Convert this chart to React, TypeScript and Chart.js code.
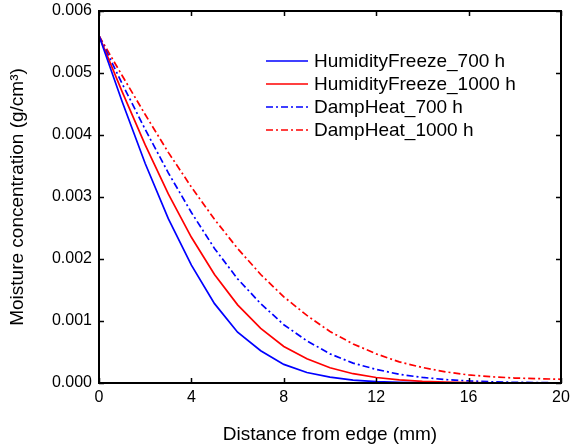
import React, { useEffect, useRef } from 'react';
import { Chart, registerables } from 'chart.js';

Chart.register(...registerables);

const FONT = '"Liberation Sans", Arial, Helvetica, sans-serif';

// Distance from edge (mm)
const distance = [0, 1, 2, 3, 4, 5, 6, 7, 8, 9, 10, 11, 12, 13, 14, 15, 16, 17, 18, 19, 20];

// Moisture concentration (g/cm3)
const humidityFreeze700 = [
  0.0056, 0.00454, 0.00354, 0.00265, 0.0019, 0.00128, 0.00082, 0.00052, 0.0003, 0.00017,
  0.000094, 0.000047, 0.000022, 0.00001, 0.000004, 0.000002, 0, 0, 0, 0, 0,
];
const humidityFreeze1000 = [
  0.0056, 0.0047, 0.00384, 0.00305, 0.00235, 0.00175, 0.00126, 0.00088, 0.00059, 0.00039,
  0.000245, 0.00015, 0.000089, 0.00005, 0.000026, 0.000013, 0.000006, 0.000003, 0.000001, 0, 0,
];
const dampHeat700 = [
  0.0056, 0.00483, 0.00409, 0.00339, 0.00275, 0.00217, 0.00168, 0.00128, 0.00094, 0.00068,
  0.00047, 0.00032, 0.00022, 0.00014, 0.00009, 0.000055, 0.000033, 0.00002, 0.000011, 0.000006, 0.000003,
];
const dampHeat1000 = [
  0.0056, 0.00496, 0.00433, 0.00372, 0.00316, 0.00264, 0.00217, 0.00175, 0.00139, 0.00109,
  0.00083, 0.00063, 0.00047, 0.00034, 0.00025, 0.00018, 0.00013, 0.0001, 0.00008, 0.00007, 0.00006,
];

const seriesLabels = ['HumidityFreeze_700 h', 'HumidityFreeze_1000 h', 'DampHeat_700 h', 'DampHeat_1000 h'];

const xTickValues = [0, 4, 8, 12, 16, 20];
const yTickValues = [0, 0.001, 0.002, 0.003, 0.004, 0.005, 0.006];

const DASH_DOT = [7, 3, 2, 3];

const framePlugin = {
  id: 'frameTicksLegend',
  afterDatasetsDraw(chart: any) {
    const { ctx, chartArea: a, scales } = chart;
    ctx.save();
    ctx.strokeStyle = '#000';
    ctx.lineWidth = 1.5;
    const tl = 5;
    ctx.beginPath();
    for (const t of scales.x.ticks) {
      const px = Math.round(scales.x.getPixelForValue(t.value)) + 0.5;
      ctx.moveTo(px, a.bottom);
      ctx.lineTo(px, a.bottom - tl);
      ctx.moveTo(px, a.top);
      ctx.lineTo(px, a.top + tl);
    }
    for (const t of scales.y.ticks) {
      const py = Math.round(scales.y.getPixelForValue(t.value)) + 0.5;
      ctx.moveTo(a.left, py);
      ctx.lineTo(a.left + tl, py);
      ctx.moveTo(a.right, py);
      ctx.lineTo(a.right - tl, py);
    }
    ctx.stroke();
    ctx.lineWidth = 2;
    ctx.strokeRect(a.left, a.top, a.right - a.left, a.bottom - a.top);

    // legend
    const lx0 = a.left + 167;
    const lx1 = a.left + 209;
    const tx = a.left + 215;
    ctx.font = `19px ${FONT}`;
    ctx.textBaseline = 'middle';
    ctx.textAlign = 'left';
    chart.data.datasets.forEach((ds: any, i: number) => {
      const y = a.top + 50 + i * 23;
      ctx.beginPath();
      ctx.strokeStyle = ds.borderColor;
      ctx.lineWidth = ds.borderWidth;
      ctx.setLineDash(ds.borderDash || []);
      ctx.moveTo(lx0, y);
      ctx.lineTo(lx1, y);
      ctx.stroke();
      ctx.setLineDash([]);
      ctx.fillStyle = '#000';
      ctx.fillText(ds.label, tx, y + 1);
    });
    ctx.restore();
  },
};

export default function App() {
  const ref = useRef<HTMLCanvasElement | null>(null);
  useEffect(() => {
    if (!ref.current) return;
    const mk = (label: string, data: number[], color: string, dash: number[]) => ({
      label,
      data: distance.map((x, i) => ({ x, y: data[i] })),
      borderColor: color,
      backgroundColor: color,
      borderWidth: 1.7,
      borderDash: dash,
      pointRadius: 0,
      tension: 0,
      fill: false,
    });
    const chart = new Chart(ref.current, {
      type: 'line',
      data: {
        datasets: [
          mk(seriesLabels[0], humidityFreeze700, '#0000ff', []),
          mk(seriesLabels[1], humidityFreeze1000, '#ff0000', []),
          mk(seriesLabels[2], dampHeat700, '#0000ff', DASH_DOT),
          mk(seriesLabels[3], dampHeat1000, '#ff0000', DASH_DOT),
        ],
      },
      options: {
        animation: false,
        responsive: false,
        layout: { padding: { left: 0, top: 11, right: 10, bottom: 0 } },
        plugins: { legend: { display: false }, tooltip: { enabled: false } },
        scales: {
          x: {
            type: 'linear',
            min: 0,
            max: 20,
            afterFit: (s: any) => {
              s.height = 65;
              s.paddingLeft = 0;
              s.paddingRight = 0;
            },
            afterBuildTicks: (s: any) => { s.ticks = xTickValues.map((v) => ({ value: v })); },
            grid: { display: false, drawTicks: false },
            border: { display: false },
            ticks: {
              padding: 5,
              color: '#000',
              font: { family: FONT, size: 16 },
              callback: (v: any) => String(v),
            },
            title: {
              display: true,
              text: 'Distance from edge (mm)',
              color: '#000',
              font: { family: FONT, size: 19 },
              padding: { top: 0, bottom: 2 },
            },
          },
          y: {
            type: 'linear',
            min: 0,
            max: 0.006,
            afterFit: (s: any) => {
              s.width = 99;
              s.paddingTop = 0;
              s.paddingBottom = 0;
            },
            afterBuildTicks: (s: any) => { s.ticks = yTickValues.map((v) => ({ value: v })); },
            grid: { display: false, drawTicks: false },
            border: { display: false },
            ticks: {
              padding: 7,
              color: '#000',
              font: { family: FONT, size: 16 },
              callback: (v: any) => Number(v).toFixed(3),
            },
            title: {
              display: true,
              text: 'Moisture concentration (g/cm³)',
              color: '#000',
              font: { family: FONT, size: 19 },
              padding: { top: 6, bottom: 0 },
            },
          },
        },
      },
      plugins: [framePlugin],
    });
    return () => chart.destroy();
  }, []);
  return (
    <div style={{ position: 'absolute', left: 0, top: 0, width: 571, height: 448, background: '#fff' }}>
      <canvas ref={ref} width={571} height={448} />
    </div>
  );
}
